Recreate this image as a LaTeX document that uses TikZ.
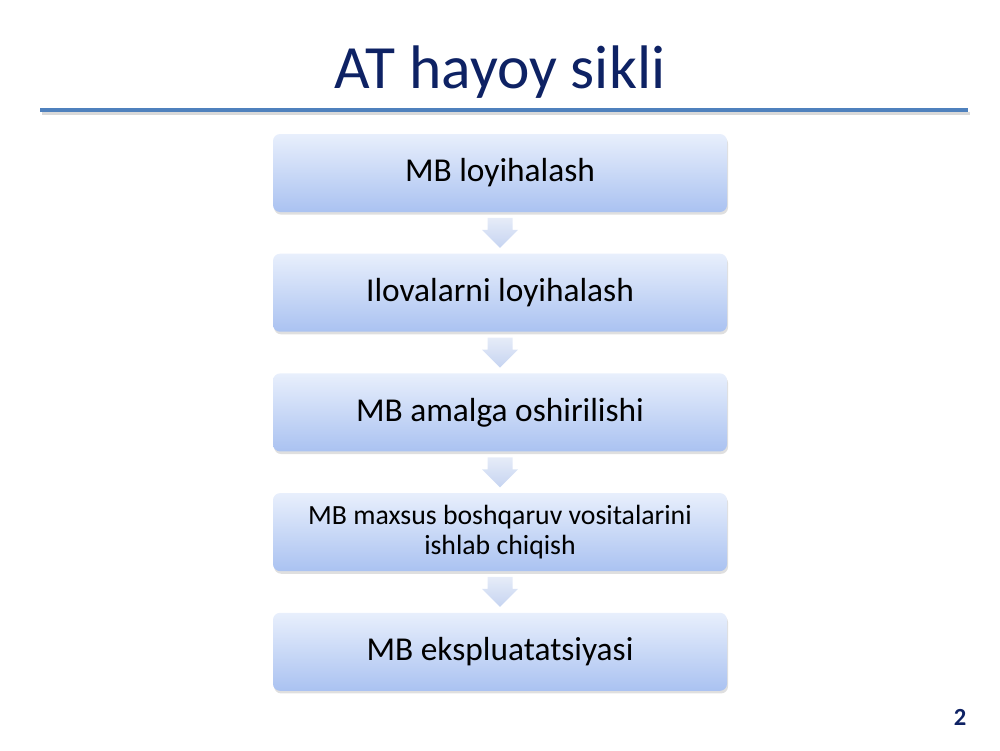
\documentclass[tikz,border=0pt]{standalone}
\usepackage{fontspec}
\setmainfont{Carlito}
\usetikzlibrary{positioning,shadows,calc}
\definecolor{titleblue}{RGB}{14,34,100}
\definecolor{rulecol}{RGB}{79,129,189}
\definecolor{boxtop}{RGB}{232,239,252}
\definecolor{boxbot}{RGB}{170,194,241}
\definecolor{arrtop}{RGB}{230,236,248}
\definecolor{arrbot}{RGB}{198,212,241}
\begin{document}
\begin{tikzpicture}[node distance={8.2mm},
  stage/.style = {rounded corners=4pt, minimum width=9.08cm, minimum height=1.56cm,
    top color=boxtop, bottom color=boxbot, align=center,
    drop shadow={opacity=0.25, shadow xshift=0.6pt, shadow yshift=-1.5pt},
    font=\fontsize{19}{22}\selectfont},
  down/.style = {top color=arrtop, bottom color=arrbot}]
\useasboundingbox (0,0) rectangle (20,-15);
% title and rule
\node[font=\fontsize{35}{38}\selectfont, text=titleblue, anchor=base] (title) at (10,-1.76) {AT hayoy sikli};
\draw[black!15, line width=0.07cm] (0.84,-2.27) -- (19.4,-2.27);
\draw[rulecol, line width=0.08cm] (0.8,-2.2) -- (19.36,-2.2);
% stages
\node[stage] (1) at (10,-3.46) {MB loyihalash};
\node[stage] (2) [below=of 1] {Ilovalarni loyihalash};
\node[stage] (3) [below=of 2] {MB amalga oshirilishi};
\node[stage, font=\fontsize{15.8}{16.6}\selectfont] (4) [below=of 3] {MB maxsus boshqaruv vositalarini\\ishlab chiqish};
\node[stage] (5) [below=of 4] {MB ekspluatatsiyasi};
% arrows
\foreach \a/\b in {1/2,2/3,3/4,4/5}
  \path[down] ($(\a.south)!0.5!(\b.north)$) ++(-0.25,0.3) -- ++(0.5,0) -- ++(0,-0.24)
    -- ++(0.11,0) -- ++(-0.36,-0.36) -- ++(-0.36,0.36) -- ++(0.11,0) -- cycle;
\node[font=\bfseries\fontsize{14}{16}\selectfont, text=titleblue] (page) at (19.2,-14.34) {2};
\end{tikzpicture}
\end{document}
